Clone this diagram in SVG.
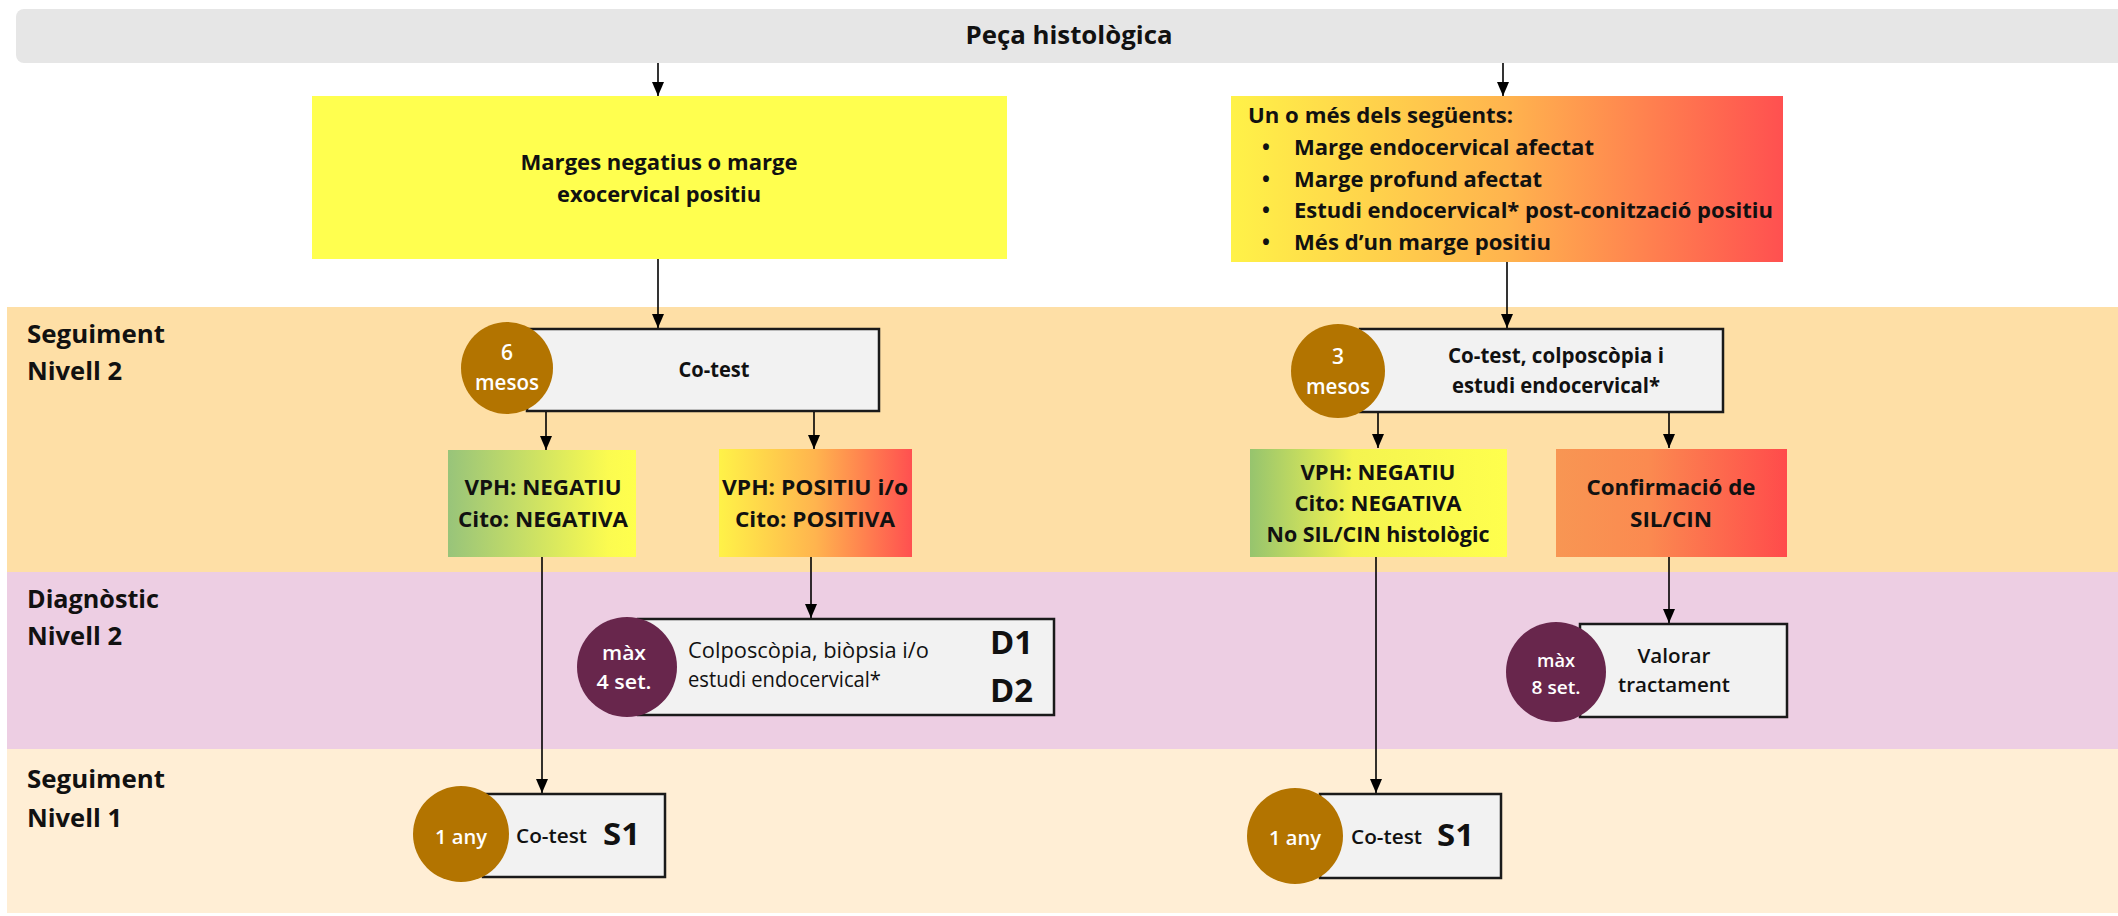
<svg xmlns="http://www.w3.org/2000/svg" width="2118" height="916" viewBox="0 0 2118 916">
  <defs>
    <style>
      text { font-family: "Open Sans", Lato, "Liberation Sans", sans-serif; fill: #111; }
      .b { font-weight: 700; }
      .s { font-weight: 600; }
      .m { font-weight: 400; }
      .c { text-anchor: middle; }
      .w { fill: #ffffff; font-weight: 600; text-anchor: middle; }
      .lane { font-size: 25.5px; font-weight: 700; }
      .box { fill: #f2f2f2; stroke: #1a1a1a; stroke-width: 2.5; }
      .brown { fill: #b37400; }
      .purple { fill: #68264c; }
      .conn line { stroke: #000; stroke-width: 1.6; marker-end: url(#arrow); }
    </style>
    <marker id="arrow" viewBox="0 0 14 12" refX="14" refY="6" markerWidth="14" markerHeight="12" markerUnits="userSpaceOnUse" orient="auto">
      <path d="M0,0 L14,6 L0,12 z" fill="#000"/>
    </marker>
    <linearGradient id="gYR" x1="0" y1="0" x2="1" y2="0">
      <stop offset="0" stop-color="#fff248"/>
      <stop offset="0.5" stop-color="#ffb44e"/>
      <stop offset="1" stop-color="#ff5050"/>
    </linearGradient>
    <linearGradient id="gGY" x1="0" y1="0" x2="1" y2="0">
      <stop offset="0" stop-color="#98c47a"/>
      <stop offset="0.85" stop-color="#fbfb50"/>
      <stop offset="1" stop-color="#ffff4d"/>
    </linearGradient>
    <linearGradient id="gGY2" x1="0" y1="0" x2="1" y2="0">
      <stop offset="0" stop-color="#96c46e"/>
      <stop offset="0.4" stop-color="#f4f450"/>
      <stop offset="1" stop-color="#ffff4d"/>
    </linearGradient>
    <linearGradient id="gOR" x1="0" y1="0" x2="1" y2="0">
      <stop offset="0" stop-color="#f89653"/>
      <stop offset="0.4" stop-color="#fb8a50"/>
      <stop offset="1" stop-color="#ff4b4b"/>
    </linearGradient>
  </defs>

  <rect width="2118" height="916" fill="#ffffff"/>

  <!-- swimlane bands -->
  <g id="lanes">
    <rect x="7" y="307" width="2111" height="265" fill="#fedfa6"/>
    <rect x="7" y="572" width="2111" height="177" fill="#edcee3"/>
    <rect x="7" y="749" width="2111" height="164" fill="#ffeed5"/>
    <text class="lane" x="27" y="343" textLength="138" lengthAdjust="spacingAndGlyphs">Seguiment</text>
    <text class="lane" x="27" y="380" textLength="95" lengthAdjust="spacingAndGlyphs">Nivell 2</text>
    <text class="lane" x="27" y="608" textLength="132" lengthAdjust="spacingAndGlyphs">Diagnòstic</text>
    <text class="lane" x="27" y="645" textLength="95" lengthAdjust="spacingAndGlyphs">Nivell 2</text>
    <text class="lane" x="27" y="788" textLength="138" lengthAdjust="spacingAndGlyphs">Seguiment</text>
    <text class="lane" x="27" y="827" textLength="95" lengthAdjust="spacingAndGlyphs">Nivell 1</text>
  </g>

  <!-- header bar -->
  <g id="header">
    <rect x="16" y="9" width="2120" height="54" rx="8" fill="#e6e6e6"/>
    <text class="b c" x="1069" y="44" font-size="25" textLength="207" lengthAdjust="spacingAndGlyphs">Peça histològica</text>
  </g>

  <g id="margesNegatius">
    <rect x="312" y="96" width="695" height="163" fill="#ffff4f"/>
    <text class="b c" x="659" y="170" font-size="21.5" textLength="277" lengthAdjust="spacingAndGlyphs">Marges negatius o marge</text>
    <text class="b c" x="659" y="202" font-size="21.5" textLength="204" lengthAdjust="spacingAndGlyphs">exocervical positiu</text>
  </g>

  <g id="margesAfectats">
    <rect x="1231" y="96" width="552" height="166" fill="url(#gYR)"/>
    <g class="b" font-size="21">
      <text x="1248" y="123" textLength="265" lengthAdjust="spacingAndGlyphs">Un o més dels següents:</text>
      <text x="1262" y="155">•</text>
      <text x="1294" y="155" textLength="300" lengthAdjust="spacingAndGlyphs">Marge endocervical afectat</text>
      <text x="1262" y="187">•</text>
      <text x="1294" y="187" textLength="248" lengthAdjust="spacingAndGlyphs">Marge profund afectat</text>
      <text x="1262" y="218">•</text>
      <text x="1294" y="218" textLength="479" lengthAdjust="spacingAndGlyphs">Estudi endocervical* post-conització positiu</text>
      <text x="1262" y="250">•</text>
      <text x="1294" y="250" textLength="257" lengthAdjust="spacingAndGlyphs">Més d’un marge positiu</text>
    </g>
  </g>

  <g id="cotest6">
    <rect class="box" x="527" y="329" width="352" height="82"/>
    <circle class="brown" cx="507" cy="368" r="46"/>
    <text class="w" x="507" y="360" font-size="21">6</text>
    <text class="w" x="507" y="390" font-size="21" textLength="64" lengthAdjust="spacingAndGlyphs">mesos</text>
    <text class="b c" x="714" y="377" font-size="20.5" textLength="71" lengthAdjust="spacingAndGlyphs">Co-test</text>
  </g>

  <g id="negatiu6">
    <rect x="448" y="450" width="188" height="107" fill="url(#gGY)"/>
    <text class="b c" x="543" y="495" font-size="22" textLength="157" lengthAdjust="spacingAndGlyphs">VPH: NEGATIU</text>
    <text class="b c" x="543" y="527" font-size="22" textLength="170" lengthAdjust="spacingAndGlyphs">Cito: NEGATIVA</text>
  </g>

  <g id="positiu6">
    <rect x="719" y="449" width="193" height="108" fill="url(#gYR)"/>
    <text class="b c" x="815" y="495" font-size="22" textLength="186" lengthAdjust="spacingAndGlyphs">VPH: POSITIU i/o</text>
    <text class="b c" x="815" y="527" font-size="22" textLength="160" lengthAdjust="spacingAndGlyphs">Cito: POSITIVA</text>
  </g>

  <g id="cotest3">
    <rect class="box" x="1360" y="329" width="363" height="83"/>
    <circle class="brown" cx="1338" cy="371" r="47"/>
    <text class="w" x="1338" y="364" font-size="21">3</text>
    <text class="w" x="1338" y="394" font-size="21" textLength="64" lengthAdjust="spacingAndGlyphs">mesos</text>
    <text class="b c" x="1556" y="363" font-size="20.5" textLength="216" lengthAdjust="spacingAndGlyphs">Co-test, colposcòpia i</text>
    <text class="b c" x="1556" y="393" font-size="20.5" textLength="208" lengthAdjust="spacingAndGlyphs">estudi endocervical*</text>
  </g>

  <g id="negatiu3">
    <rect x="1250" y="449" width="257" height="108" fill="url(#gGY2)"/>
    <text class="b c" x="1378" y="480" font-size="22" textLength="155" lengthAdjust="spacingAndGlyphs">VPH: NEGATIU</text>
    <text class="b c" x="1378" y="511" font-size="22" textLength="167" lengthAdjust="spacingAndGlyphs">Cito: NEGATIVA</text>
    <text class="b c" x="1378" y="542" font-size="22" textLength="223" lengthAdjust="spacingAndGlyphs">No SIL/CIN histològic</text>
  </g>

  <g id="confirmacio">
    <rect x="1556" y="449" width="231" height="108" fill="url(#gOR)"/>
    <text class="b c" x="1671" y="495" font-size="22" textLength="169" lengthAdjust="spacingAndGlyphs">Confirmació de</text>
    <text class="b c" x="1671" y="527" font-size="22" textLength="82" lengthAdjust="spacingAndGlyphs">SIL/CIN</text>
  </g>

  <g id="colposcopia">
    <rect class="box" x="638" y="619" width="416" height="96"/>
    <circle class="purple" cx="627" cy="667" r="50"/>
    <text class="w" x="624" y="660" font-size="20.5" textLength="44" lengthAdjust="spacingAndGlyphs">màx</text>
    <text class="w" x="624" y="689" font-size="20.5" textLength="55" lengthAdjust="spacingAndGlyphs">4 set.</text>
    <text class="m" x="688" y="658" font-size="21" textLength="241" lengthAdjust="spacingAndGlyphs">Colposcòpia, biòpsia i/o</text>
    <text class="m" x="688" y="687" font-size="21" textLength="193" lengthAdjust="spacingAndGlyphs">estudi endocervical*</text>
    <text class="b" x="990" y="654" font-size="32" textLength="43" lengthAdjust="spacingAndGlyphs">D1</text>
    <text class="b" x="990" y="702" font-size="32" textLength="43" lengthAdjust="spacingAndGlyphs">D2</text>
  </g>

  <g id="valorar">
    <rect class="box" x="1580" y="624" width="207" height="93"/>
    <circle class="purple" cx="1556" cy="672" r="50"/>
    <text class="w" x="1556" y="667" font-size="18.5" textLength="38" lengthAdjust="spacingAndGlyphs">màx</text>
    <text class="w" x="1556" y="694" font-size="18.5" textLength="49" lengthAdjust="spacingAndGlyphs">8 set.</text>
    <text class="s c" x="1674" y="663" font-size="20.5" textLength="73" lengthAdjust="spacingAndGlyphs">Valorar</text>
    <text class="s c" x="1674" y="692" font-size="20.5" textLength="112" lengthAdjust="spacingAndGlyphs">tractament</text>
  </g>

  <g id="s1Left">
    <rect class="box" x="483" y="794" width="182" height="83"/>
    <circle class="brown" cx="461" cy="834" r="48"/>
    <text class="w" x="461" y="844" font-size="20" textLength="52" lengthAdjust="spacingAndGlyphs">1 any</text>
    <text class="s" x="516" y="843" font-size="20" textLength="71" lengthAdjust="spacingAndGlyphs">Co-test</text>
    <text class="b" x="603" y="845" font-size="31" textLength="37" lengthAdjust="spacingAndGlyphs">S1</text>
  </g>

  <g id="s1Right">
    <rect class="box" x="1320" y="794" width="181" height="84"/>
    <circle class="brown" cx="1295" cy="836" r="48"/>
    <text class="w" x="1295" y="845" font-size="20" textLength="52" lengthAdjust="spacingAndGlyphs">1 any</text>
    <text class="s" x="1351" y="844" font-size="20" textLength="71" lengthAdjust="spacingAndGlyphs">Co-test</text>
    <text class="b" x="1437" y="846" font-size="31" textLength="37" lengthAdjust="spacingAndGlyphs">S1</text>
  </g>

  <!-- connectors -->
  <g id="connectors" class="conn">
    <line x1="658" y1="63" x2="658" y2="96"/>
    <line x1="1503" y1="63" x2="1503" y2="96"/>
    <line x1="658" y1="259" x2="658" y2="328"/>
    <line x1="1507" y1="262" x2="1507" y2="328"/>
    <line x1="546" y1="412" x2="546" y2="450"/>
    <line x1="814" y1="412" x2="814" y2="449"/>
    <line x1="1378" y1="413" x2="1378" y2="448"/>
    <line x1="1669" y1="413" x2="1669" y2="448"/>
    <line x1="542" y1="557" x2="542" y2="793"/>
    <line x1="811" y1="557" x2="811" y2="618"/>
    <line x1="1376" y1="557" x2="1376" y2="793"/>
    <line x1="1669" y1="557" x2="1669" y2="623"/>
  </g>
</svg>
